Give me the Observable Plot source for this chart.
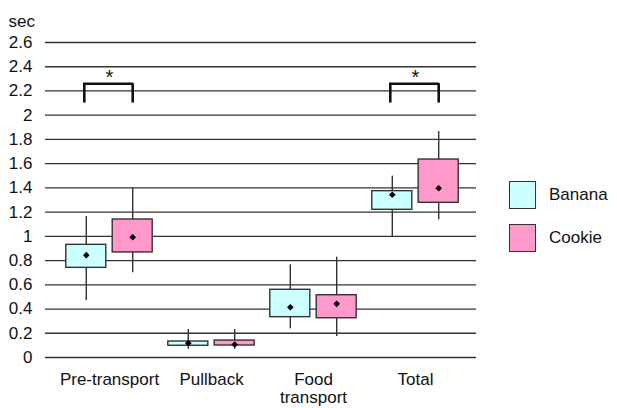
<!DOCTYPE html>
<html>
<head>
<meta charset="utf-8">
<script src="https://cdn.jsdelivr.net/npm/d3@7"></script>
<script src="https://cdn.jsdelivr.net/npm/@observablehq/plot@0.6"></script>
<style>
  html, body { margin: 0; padding: 0; background: #fff; }
  #wrap { position: relative; width: 617px; height: 408px; font-family: "Liberation Sans", Arial, sans-serif; }
  #legend { position: absolute; left: 509px; top: 181px; font-size: 17px; color: #111; }
  .item { display: flex; align-items: center; height: 28px; margin-bottom: 15.3px; }
  .sw { width: 25px; height: 26px; border: 1.5px solid #333; margin-right: 13px; }
</style>
</head>
<body>
<div id="wrap"><div id="legend"></div></div>
<script>
const categories = ["Pre-transport", "Pullback", "Food transport", "Total"];
const series = ["Banana", "Cookie"];
const colors = ["#CCFFFF", "#FF99CC"];

const bananaLow  = [0.47, 0.068, 0.237, 0.999];
const bananaQ1   = [0.74, 0.097, 0.333, 1.219];
const bananaQ3   = [0.93, 0.132, 0.559, 1.373];
const bananaHigh = [1.164, 0.231, 0.765, 1.497];
const bananaMean = [0.845, 0.118, 0.415, 1.343];

const cookieLow  = [0.70, 0.068, 0.173, 1.137];
const cookieQ1   = [0.867, 0.099, 0.324, 1.277];
const cookieQ3   = [1.139, 0.14, 0.514, 1.634];
const cookieHigh = [1.40, 0.231, 0.828, 1.865];
const cookieMean = [0.993, 0.107, 0.443, 1.397];

const yTicks = [0, 0.2, 0.4, 0.6, 0.8, 1, 1.2, 1.4, 1.6, 1.8, 2, 2.2, 2.4, 2.6];
const yLabels = ["0", "0.2", "0.4", "0.6", "0.8", "1", "1.2", "1.4", "1.6", "1.8", "2", "2.2", "2.4", "2.6"];
const xLabels = ["Pre-transport", "Pullback", "Food\ntransport", "Total"];

const sigCategories = ["Pre-transport", "Total"];
const sigBottom = [2.1, 2.1];
const sigTop = [2.26, 2.26];
const sigStarY = [2.31, 2.31];

const banana = categories.map((c, i) => ({category: c, low: bananaLow[i], q1: bananaQ1[i], q3: bananaQ3[i], high: bananaHigh[i], mean: bananaMean[i]}));
const cookie = categories.map((c, i) => ({category: c, low: cookieLow[i], q1: cookieQ1[i], q3: cookieQ3[i], high: cookieHigh[i], mean: cookieMean[i]}));
const sig = sigCategories.map((c, i) => ({category: c, bottom: sigBottom[i], top: sigTop[i], star: sigStarY[i]}));

const off = 23.2;   // half distance between the two boxes of a group
const inA = 7.8, inB = 54.2;

const chart = Plot.plot({
  width: 617,
  height: 408,
  marginLeft: 45,
  marginRight: 141,
  marginTop: 42,
  marginBottom: 51,
  style: {fontFamily: "'Liberation Sans', Arial, sans-serif", fontSize: "17px", color: "#111", background: "transparent"},
  x: {domain: categories, range: [56.2, 468], padding: 0, label: null},
  y: {domain: [0, 2.6], label: null},
  marks: [
    Plot.gridY(yTicks, {stroke: "#333", strokeOpacity: 1, strokeWidth: 1.3}),
    Plot.axisY(yTicks, {tickSize: 0, tickPadding: 13, tickFormat: (d, i) => yLabels[i], label: null, fontSize: 17}),
    Plot.axisX({tickSize: 0, tickPadding: 15, tickFormat: (d, i) => xLabels[categories.indexOf(d)], label: null, fontSize: 17, lineHeight: 1.05}),
    Plot.text(["sec"], {frameAnchor: "top-left", text: d => d, dx: -37, dy: -28, textAnchor: "start", fontSize: 17}),
    // whiskers
    Plot.ruleX(banana, {x: "category", y1: "low", y2: "high", dx: -off, stroke: "#333", strokeWidth: 1.4}),
    Plot.ruleX(cookie, {x: "category", y1: "low", y2: "high", dx: off, stroke: "#333", strokeWidth: 1.4}),
    // boxes
    Plot.barY(banana, {x: "category", y1: "q1", y2: "q3", fill: colors[0], stroke: "#333", strokeWidth: 1.4, insetLeft: inA, insetRight: inB}),
    Plot.barY(cookie, {x: "category", y1: "q1", y2: "q3", fill: colors[1], stroke: "#333", strokeWidth: 1.4, insetLeft: inB, insetRight: inA}),
    // means
    Plot.dot(banana, {x: "category", y: "mean", dx: -off, symbol: "diamond2", r: 3, fill: "#000", stroke: "none"}),
    Plot.dot(cookie, {x: "category", y: "mean", dx: off, symbol: "diamond2", r: 3, fill: "#000", stroke: "none"}),
    // significance brackets
    Plot.ruleX(sig, {x: "category", y1: "bottom", y2: "top", dx: -off - 2, stroke: "#111", strokeWidth: 2.6}),
    Plot.ruleX(sig, {x: "category", y1: "bottom", y2: "top", dx: off, stroke: "#111", strokeWidth: 2.6}),
    Plot.tickY(sig, {x: "category", y: "top", insetLeft: 51.5 - off - 3.3, insetRight: 51.5 - off - 1.3, stroke: "#111", strokeWidth: 2.6}),
    Plot.text(sig, {x: "category", y: "star", text: () => "*", fontSize: 20, fill: "#111"})
  ]
});
document.getElementById("wrap").prepend(chart);

const legend = document.getElementById("legend");
series.forEach((s, i) => {
  const item = document.createElement("div");
  item.className = "item";
  const sw = document.createElement("div");
  sw.className = "sw";
  sw.style.background = colors[i];
  const label = document.createElement("span");
  label.textContent = s;
  item.appendChild(sw);
  item.appendChild(label);
  legend.appendChild(item);
});
</script>
</body>
</html>
